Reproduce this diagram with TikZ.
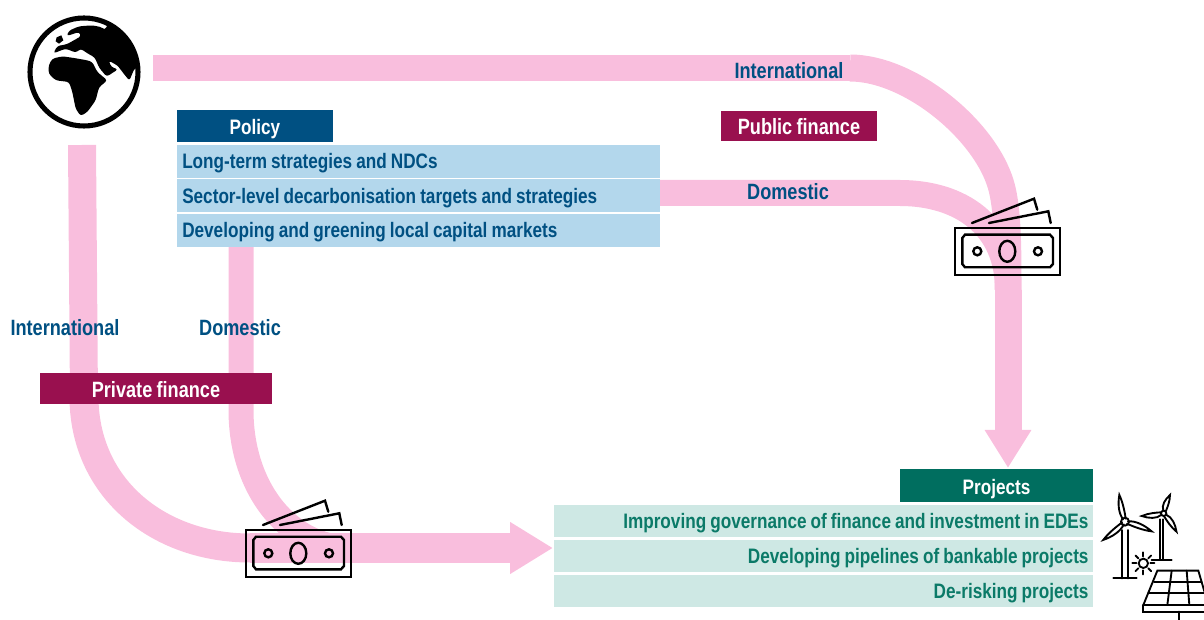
\documentclass[tikz,border=0pt]{standalone}
\usepackage{fontspec}
\setmainfont[FakeStretch=0.82,WordSpace=0.85]{Liberation Sans}
\usetikzlibrary{arrows.meta}
\definecolor{bandpink}{HTML}{F9BEDD}
\definecolor{policyblue}{HTML}{005082}
\definecolor{rowblue}{HTML}{B3D7EC}
\definecolor{financered}{HTML}{99104F}
\definecolor{projectgreen}{HTML}{006E5F}
\definecolor{rowgreen}{HTML}{CEE8E4}
\definecolor{textgreen}{HTML}{0B7A68}
\tikzset{
  boxtext/.style={font=\bfseries\fontsize{15.7}{18}\selectfont,inner sep=0pt,text height=11pt,text depth=0pt},
  bigtext/.style={font=\bfseries\fontsize{16.6}{18}\selectfont},
  header/.style={boxtext,text=white,align=flush center,text height=13pt},
  policyrow/.style={boxtext,fill=rowblue,text=policyblue,text width=472.5*0.75pt,align=flush left,inner xsep=4pt,minimum width=483*0.75pt,minimum height=33*0.75pt},
  projectrow/.style={boxtext,fill=rowgreen,text=textgreen,text width=530*0.75pt,align=flush right,minimum width=539*0.75pt,minimum height=32*0.75pt},
  flowlabel/.style={boxtext,bigtext,text=policyblue},
  band/.style={draw=bandpink,line width=#1*0.75pt},
  band/.default=26,
  bandtip/.style 2 args={-{Triangle[length=#1*0.75pt,width=#2*0.75pt]}},
  icon/.style={draw=black,line width=1.8pt,line cap=round,line join=miter},
  fineicon/.style={icon,line width=1.4pt},
  money/.pic={
    \draw[icon] (0,0) rectangle (105,47);
    \draw[icon] (10,6.7) -- (95,6.7) -- (98,10) -- (98,36) -- (95,39.3) -- (10,39.3) -- (7.3,36) -- (7.3,10) -- cycle;
    \draw[icon] (52.3,23.3) ellipse (8 and 10.5);
    \draw[icon] (22.3,23.3) circle (4);
    \draw[icon] (83,23.3) circle (4);
    \draw[icon] (17,-5) -- (79,-29.3) -- (82.3,-18.3);
    \draw[icon] (34,-5) -- (93.3,-16.7) -- (95.7,-5);
  }
}
\begin{document}
\begin{tikzpicture}[x=0.75pt,y=-0.75pt]
\useasboundingbox (0,0) rectangle (1204,620);

% Flow ends
\coordinate (worldEast) at (153,68);
\coordinate (worldSouth) at (82,145);
\coordinate (publicTurn) at (850,68);
\coordinate (publicDown) at (1001,185);
\coordinate (publicNote) at (1008,290);
\coordinate (domesticTurn) at (900,193);
\coordinate (domesticEast) at (660,193);
\coordinate (projectsTop) at (1008,468);
\coordinate (policySouth) at (241,247);
\coordinate (privateTurnA) at (84,400);
\coordinate (privateTurnB) at (241,410);
\coordinate (privateNote) at (250,548);
\coordinate (privateMerge) at (350,548);
\coordinate (rowsWest) at (553,548);

% Pink flows
\draw[band] (worldEast) -- (publicTurn);
\draw[band=27] (publicTurn) .. controls (910,68) and (985,130) .. (publicDown) .. controls (1008,209) and (1008,250) .. (publicNote);
\draw[band] (domesticEast) -- (domesticTurn) .. controls (960,193) and (1008,225) .. (publicNote);
\draw[band=27,bandtip={38}{44}] (publicNote) -- (projectsTop);
\draw[band=28] (worldSouth) -- (privateTurnA);
\draw[band=29] (privateTurnA) .. controls (86,490) and (160,548) .. (privateNote);
\draw[band=25] (policySouth) -- (privateTurnB) .. controls (241,490) and (290,548) .. (privateMerge);
\draw[band=30,bandtip={43}{49}] (privateNote) -- (rowsWest);

% Policy
\node[header,fill=policyblue,minimum width=156*0.75pt,minimum height=32*0.75pt] (policy) at (255,126) {Policy};
\node[policyrow] (rowStrategies) at (418.5,161.5) {Long-term strategies and NDCs};
\node[policyrow] (rowTargets) at (418.5,196) {Sector-level decarbonisation targets and strategies};
\node[policyrow] (rowMarkets) at (418.5,230.5) {Developing and greening local capital markets};

% Finance
\node[header,bigtext,fill=financered,minimum width=156*0.75pt,minimum height=30*0.75pt] (publicFinance) at (799,126) {Public finance};
\node[header,bigtext,fill=financered,minimum width=232*0.75pt,minimum height=31*0.75pt] (privateFinance) at (156,388.5) {Private finance};

% Projects
\node[header,fill=projectgreen,minimum width=193*0.75pt,minimum height=33*0.75pt] (projects) at (996.5,485.5) {Projects};
\node[projectrow] (rowGovernance) at (823.5,521) {Improving governance of finance and investment in EDEs};
\node[projectrow] (rowPipelines) at (823.5,556) {Developing pipelines of bankable projects};
\node[projectrow] (rowRisk) at (823.5,591) {De-risking projects};

% Flow labels
\node[flowlabel] (labelIntlTop) at (789,71) {International};
\node[flowlabel] (labelDomTop) at (788,192) {Domestic};
\node[flowlabel] (labelIntlLeft) at (65,328) {International};
\node[flowlabel] (labelDomLeft) at (240,328) {Domestic};

% Money
\pic at (955,228) {money};
\pic at (246,530) {money};

% Globe
\begin{scope}[shift={(24,12)},scale=1/3]
\begin{scope}
\clip (180,180) circle (165);
\fill[black,rounded corners=2pt] (88,124) -- (100,102) -- (128,97) -- (155,82) -- (172,72) -- (165,60) -- (128,72) -- (135,56) -- (165,43) -- (205,40) -- (235,46) -- (240,55) -- (262,25) -- (360,100) -- (360,170) -- (332,168) -- (316,206) -- (300,186) -- (280,160) -- (254,146) -- (262,165) -- (282,172) -- (248,194) -- (226,168) -- (212,136) -- (192,125) -- (170,110) -- (156,122) -- (125,110) -- cycle;
\end{scope}
\fill[black] (98,76) -- (112,70) -- (118,85) -- (105,95) -- (95,88) -- cycle;
\fill[black,rounded corners=2pt] (74,160) -- (85,140) -- (115,133) -- (150,138) -- (190,145) -- (205,150) -- (220,180) -- (250,205) -- (225,226) -- (215,265) -- (190,300) -- (170,312) -- (155,290) -- (145,240) -- (135,210) -- (95,205) -- (74,185) -- cycle;
\node[circle,draw=black,line width=3.8pt,minimum size=108*0.75pt,inner sep=0pt] (world) at (180,180) {};
\end{scope}

% Wind and solar
\begin{scope}[shift={(1080,480)},scale=1/3]
\clip (0,0) rectangle (372,420);
\foreach \hubx/\huby/\ang/\len in {135/125/102/82,135/125/-20/85,135/125/-140/85,251/100/71/58,251/100/-173/66,251/100/-55/67}
  \draw[fineicon,shift={(\hubx,\huby)},rotate=\ang] (8,-4) .. controls ({0.35*\len},-14) and ({0.7*\len},-10) .. (\len,0) .. controls ({0.7*\len},6) and ({0.35*\len},5) .. (8,4);
\draw[fineicon] (135,125) circle (12);
\draw[fineicon] (125,150) -- (125,295) (143,150) -- (143,295) (100,295) -- (170,295);
\draw[fineicon] (251,100) circle (8);
\draw[fineicon] (240,118) -- (240,240) (250,118) -- (250,240) (215,240) -- (275,240);
\draw[fineicon] (190,250) circle (14);
\foreach \ang in {0,45,...,315}
  \draw[fineicon] (190,250) ++(\ang:21) -- ++(\ang:12);
\draw[fineicon,fill=white] (232,272) -- (355,272) -- (385,375) -- (190,375) -- cycle;
\draw[fineicon] (190,375) -- (190,395) -- (385,395) -- (385,375);
\draw[fineicon] (222,305) -- (365,305) (205,340) -- (375,340);
\draw[fineicon] (275,272) -- (262,375) (320,272) -- (328,375);
\draw[fineicon] (297,395) -- (297,425);
\end{scope}

\end{tikzpicture}
\end{document}
